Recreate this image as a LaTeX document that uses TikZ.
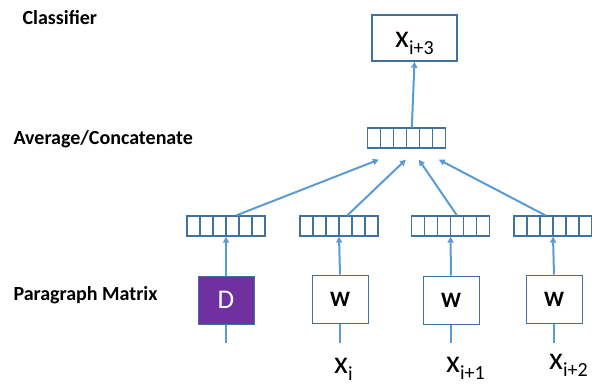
\documentclass[tikz,border=0pt]{standalone}
\usepackage{fontspec}
\setmainfont{Carlito}
\usetikzlibrary{arrows.meta}
\definecolor{boxblue}{HTML}{41719C}
\definecolor{arrowblue}{HTML}{5B9BD5}
\definecolor{parpurple}{HTML}{7030A0}
\newcommand{\xsub}[1]{{\fontsize{32}{33}\selectfont x}\raisebox{-7pt}{\fontsize{20}{21}\selectfont #1}}
\begin{document}
\begin{tikzpicture}[x=1pt, y=-1pt,
    lbl/.style={anchor=base west, font=\fontsize{20}{24}\selectfont\bfseries},
    vec/.style={draw=boxblue, line width=1.3pt, minimum width=78pt, minimum height=20pt, inner sep=0pt,
      path picture={\foreach \k in {1,...,5}
        \draw[boxblue, line width=1.3pt] ([xshift=\k*13pt]path picture bounding box.south west)
          -- ([xshift=\k*13pt]path picture bounding box.north west);}},
    wbox/.style={draw=boxblue, line width=1pt, minimum width=56pt, minimum height=48pt, inner sep=0pt,
      font=\fontsize{22}{24}\selectfont\bfseries},
    arr/.style={draw=arrowblue, line width=2pt, -{Triangle[length=6pt,width=6pt]}},
    feed/.style={draw=arrowblue, line width=2pt},
    word/.style={anchor=base west, inner sep=0pt}]
  \useasboundingbox (0,0) rectangle (592,385);
  % row labels
  \node[lbl] (lclass) at (19,25) {Classifier};
  \node[lbl] (lavg) at (10,145) {Average/Concatenate};
  \node[lbl] (lpar) at (10,300) {Paragraph Matrix};
  % classifier and averaged vector
  \node[draw=boxblue, line width=1.5pt, minimum width=85pt, minimum height=46pt, inner sep=0pt,
    text height=22pt, text depth=2pt] (cls) at (414.5,38) {\xsub{i+3}};
  \node[vec] (avg) at (406.5,138) {};
  % word vectors
  \node[vec] (v1) at (226,226) {};
  \node[vec] (v2) at (339,226) {};
  \node[vec] (v3) at (450.5,226) {};
  \node[vec] (v4) at (553,226) {};
  % matrices
  \node[wbox, fill=parpurple, text=white, font=\fontsize{27}{28}\selectfont] (d) at (226,300) {D};
  \node[wbox] (w1) at (340,299) {W};
  \node[wbox] (w2) at (451,300) {W};
  \node[wbox] (w3) at (554,299) {W};
  \coordinate (in0) at (226,343);
  \coordinate (in1) at (340,343);
  \coordinate (in2) at (451,343);
  \coordinate (in3) at (554,343);
  \node[word] (x1) at (334,373) {\xsub{i}};
  \node[word] (x2) at (446,372) {\xsub{i+1}};
  \node[word] (x3) at (549,369) {\xsub{i+2}};
  % connectors
  \draw[feed] (in0) -- (d.south);
  \draw[feed] (in1) -- (w1.south);
  \draw[feed] (in2) -- (w2.south);
  \draw[feed] (in3) -- (w3.south);
  \draw[arr] (d.north) -- (v1.south);
  \draw[arr] (w1.north) -- (v2.south);
  \draw[arr] (w2.north) -- (v3.south);
  \draw[arr] (w3.north) -- (v4.south);
  \draw[arr] ([xshift=50pt]v1.north west) -- ([xshift=12pt,yshift=-11pt]avg.south west);
  \draw[arr] ([xshift=48pt]v2.north west) -- ([xshift=39pt,yshift=-11pt]avg.south west);
  \draw[arr] ([xshift=46pt]v3.north west) -- ([xshift=52pt,yshift=-11pt]avg.south west);
  \draw[arr] ([xshift=32pt]v4.north west) -- ([xshift=72pt,yshift=-11pt]avg.south west);
  \draw[arr] ([xshift=45pt]avg.north west) -- (cls.south);
\end{tikzpicture}
\end{document}
